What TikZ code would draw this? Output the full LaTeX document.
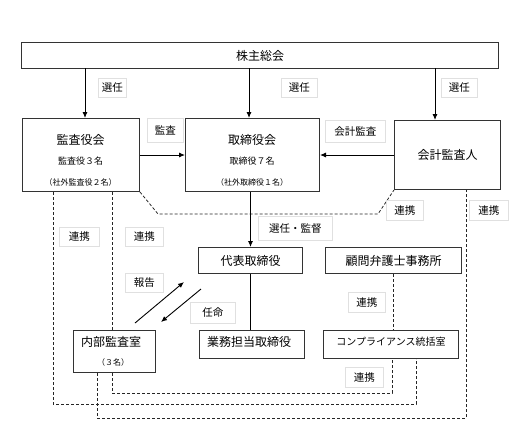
\documentclass[tikz,border=0pt]{standalone}
\usepackage{fontspec}
\setmainfont{Noto Sans CJK JP}
\usetikzlibrary{arrows.meta}
\begin{document}
\begin{tikzpicture}[x=1pt,y=-1pt,
 box/.style={draw=black!80,line width=1pt,fill=white,anchor=north west,inner sep=0pt,font=\fontsize{12}{14}\selectfont},
 lab/.style={draw=black!12,line width=0.6pt,fill=white,anchor=north west,inner sep=0pt,font=\fontsize{10.5}{12}\selectfont},
 arr/.style={line width=0.9pt,-{Latex[length=6pt,width=5pt]}},
 ln/.style={line width=0.9pt},
 dsh/.style={line width=0.8pt,dash pattern=on 3pt off 2pt,black!85},
 big/.style={font=\fontsize{12}{14}\selectfont,inner sep=0pt},
 small/.style={font=\fontsize{9}{11}\selectfont,inner sep=0pt},
 tiny/.style={font=\fontsize{8}{10}\selectfont,inner sep=0pt}
]
\useasboundingbox (0,0) rectangle (526,445);
\fill[white] (0,0) rectangle (526,445);

% boxes
\node[box,minimum width=477pt,minimum height=26pt] (top) at (21,42) {株主総会};
\node[box,minimum width=117pt,minimum height=73pt] (kansa) at (22,118) {};
\node[box,minimum width=134pt,minimum height=73pt] (tori) at (185,118) {};
\node[box,minimum width=106pt,minimum height=69pt] (kaikei) at (394,120) {会計監査人};
\node[box,minimum width=104pt,minimum height=26pt] (daihyo) at (198,247) {代表取締役};
\node[box,minimum width=136pt,minimum height=26pt] (komon) at (325,247) {顧問弁護士事務所};
\node[box,minimum width=105pt,minimum height=28pt] (gyomu) at (199,330) {};
\node[box,minimum width=82pt,minimum height=42pt] (naibu) at (73,330) {};
\node[box,minimum width=135pt,minimum height=28pt] (comp) at (323,330) {};

% texts inside boxes
\node[big] (kansaA) at (80.5,140) {監査役会};
\node[small] (kansaB) at (80.5,161) {監査役３名};
\node[tiny] (kansaC) at (80.5,182) {（社外監査役２名）};
\node[big] (toriA) at (252,140) {取締役会};
\node[small] (toriB) at (252,161) {取締役７名};
\node[tiny] (toriC) at (252,182) {（社外取締役１名）};
\node[big] (gyomuT) at (249,342) {業務担当取締役};
\node[big,anchor=west] (naibuA) at (81,342) {内部監査室};
\node[tiny] (naibuB) at (113,362) {（３名）};
\node[font=\fontsize{10}{12}\selectfont,inner sep=0pt] (compT) at (391,342) {コンプライアンス統括室};

% dashed connectors
\draw[dsh] ([xshift=31pt]kansa.south west) -- ++(0,212) -| ([xshift=-43pt]comp.south east);
\draw[dsh] ([xshift=90pt]kansa.south west) -- ([xshift=39pt]naibu.north west);
\draw[dsh] ([xshift=39pt]naibu.south west) -- ++(0,20) -| ([xshift=69pt]comp.south west);
\draw[dsh] ([xshift=24pt]naibu.south west) -- ++(0,45) -| ([xshift=72pt]kaikei.south west);
\draw[dsh] (kansa.south east) -- ++(18,22) -- ++(220,0) -- (kaikei.south west);
\draw[dsh] ([xshift=68pt]komon.south west) -- ([xshift=70pt]comp.north west);

% solid connectors
\coordinate (t1) at (85,68);
\coordinate (t2) at (249,68);
\coordinate (t3) at (435,68);
\draw[arr] (t1) -- (t1 |- kansa.north);
\draw[arr] (t2) -- (t2 |- tori.north);
\draw[arr] (t3) -- (t3 |- kaikei.north);
\draw[arr] (kansa.east) -- (kansa.east -| tori.west);
\draw[arr] (kaikei.west) -- (kaikei.west -| tori.east);
\draw[arr] (daihyo.north |- tori.south) -- (daihyo.north);
\draw[ln] (daihyo.south) -- (daihyo.south |- gyomu.north);
\coordinate (r1) at (135,323);
\coordinate (r2) at (184,282);
\coordinate (n1) at (201,289);
\coordinate (n2) at (161,322);
\draw[arr] (r1) -- (r2);
\draw[arr] (n1) -- (n2);

% labels
\node[lab,minimum width=28pt,minimum height=19pt] (l1) at (98,78) {選任};
\node[lab,minimum width=36pt,minimum height=19pt] (l2) at (281,78) {選任};
\node[lab,minimum width=36pt,minimum height=19pt] (l3) at (441,78) {選任};
\node[lab,minimum width=36pt,minimum height=24pt] (l4) at (147,118) {監査};
\node[lab,minimum width=60pt,minimum height=22pt] (l5) at (325,120) {会計監査};
\node[lab,minimum width=74pt,minimum height=24pt] (l6) at (258,216) {選任・監督};
\node[lab,minimum width=37pt,minimum height=20pt] (l7) at (386,200) {連携};
\node[lab,minimum width=39pt,minimum height=20pt] (l8) at (469,200) {連携};
\node[lab,minimum width=40pt,minimum height=19pt] (l9) at (59,227) {連携};
\node[lab,minimum width=38pt,minimum height=19pt] (l10) at (125,227) {連携};
\node[lab,minimum width=38pt,minimum height=19pt] (l11) at (125,273) {報告};
\node[lab,minimum width=45pt,minimum height=21pt] (l12) at (190,302) {任命};
\node[lab,minimum width=37pt,minimum height=20pt] (l13) at (348,292) {連携};
\node[lab,minimum width=38pt,minimum height=20pt] (l14) at (345,367) {連携};
\end{tikzpicture}
\end{document}
